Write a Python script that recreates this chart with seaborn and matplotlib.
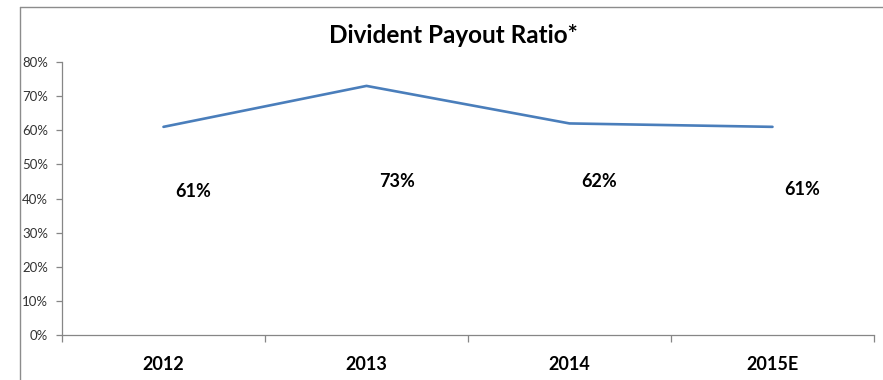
import matplotlib
matplotlib.use("Agg")
import matplotlib.pyplot as plt
from matplotlib.lines import Line2D
from matplotlib.ticker import FixedLocator, NullFormatter, PercentFormatter
import pandas as pd
import seaborn as sns

# Dividend payout ratio by year (percent)
years = ["2012", "2013", "2014", "2015E"]
payout_pct = [61, 73, 62, 61]
value_labels = ["61%", "73%", "62%", "61%"]
y_ticks = [0, 10, 20, 30, 40, 50, 60, 70, 80]
title = "Divident Payout Ratio*"

df = pd.DataFrame({"pos": range(len(years)), "year": years, "payout": payout_pct})

sns.set_theme(style="white")
plt.rcParams["font.family"] = ["Lato", "DejaVu Sans"]

fig = plt.figure(figsize=(8.83, 3.80), dpi=100)
fig.patch.set_facecolor("white")
ax = fig.add_axes([0.0702, 0.1184, 0.9196, 0.7184])

sns.lineplot(data=df, x="pos", y="payout", ax=ax, color="#4A7EBB",
             linewidth=1.9, marker=None, legend=False)

ax.set_xlim(-0.5, len(years) - 0.5)
ax.set_ylim(0, 80)
ax.set_xlabel("")
ax.set_ylabel("")

# Category boundaries carry the tick marks; names sit between them
ax.xaxis.set_major_locator(FixedLocator([i - 0.5 for i in range(len(years) + 1)]))
ax.xaxis.set_major_formatter(NullFormatter())
ax.xaxis.set_minor_locator(FixedLocator(list(range(len(years)))))
ax.set_xticklabels(years, minor=True)
ax.tick_params(axis="x", which="major", direction="out", length=5, width=0.9,
               color="#868686", bottom=True)
ax.tick_params(axis="x", which="minor", length=0, pad=15, labelsize=13,
               labelcolor="#000000", bottom=True)
for lbl in ax.get_xticklabels(minor=True):
    lbl.set_fontweight("bold")

ax.set_yticks(y_ticks)
ax.yaxis.set_major_formatter(PercentFormatter(decimals=0))
ax.tick_params(axis="y", direction="out", length=4, width=0.9, color="#868686",
               labelsize=9.5, labelcolor="#333333", left=True, pad=6)

for side in ("top", "right"):
    ax.spines[side].set_visible(False)
for side in ("left", "bottom"):
    ax.spines[side].set_color("#868686")
    ax.spines[side].set_linewidth(0.9)

# Value labels, shifted below and right of each point
label_y = [42, 45, 45, 42.5]
for i, (txt, ly) in enumerate(zip(value_labels, label_y)):
    ax.text(i + 0.06, ly, txt, ha="left", va="center", fontsize=13,
            fontweight="bold", color="#000000")

fig.text(0.514, 0.907, title, ha="center", va="center", fontsize=17.5,
         fontweight="bold", color="#000000")

# Chart area frame (top and left edges)
fig.add_artist(Line2D([20 / 883, 1.0], [1 - 7 / 380, 1 - 7 / 380],
                      transform=fig.transFigure, color="#8C8C8C", linewidth=1.0))
fig.add_artist(Line2D([20 / 883, 20 / 883], [0.0, 1 - 7 / 380],
                      transform=fig.transFigure, color="#8C8C8C", linewidth=1.0))

fig.savefig("out.png", dpi=100, facecolor="white")
